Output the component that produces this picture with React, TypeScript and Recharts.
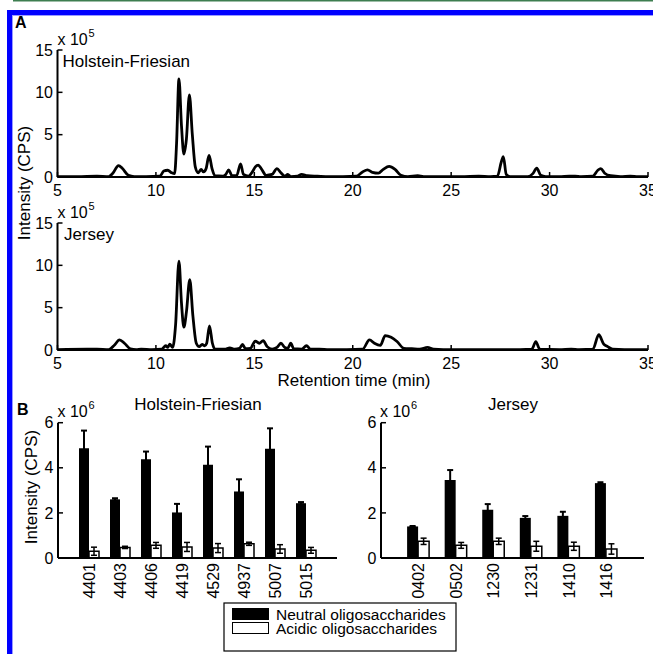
import React from 'react';
import { LineChart, Line, XAxis, YAxis, BarChart, Bar, ErrorBar } from 'recharts';

const FONT = '"Liberation Sans", Arial, Helvetica, sans-serif';

// ---------- Panel A: chromatograms (intensity x 10^5 CPS vs retention time, min) ----------
const hfTime = [5.0, 6.0, 7.0, 7.6, 7.8, 8.1, 8.3, 8.6, 8.9, 9.5, 10.2, 10.4, 10.6, 10.8, 10.95, 11.05, 11.17, 11.3, 11.42, 11.55, 11.7, 11.85, 12.0, 12.15, 12.3, 12.42, 12.55, 12.7, 12.85, 13.0, 13.4, 13.55, 13.7, 13.85, 14.1, 14.3, 14.45, 14.7, 14.9, 15.05, 15.2, 15.35, 15.6, 15.9, 16.15, 16.35, 16.55, 16.7, 16.85, 17.2, 17.4, 17.7, 18.2, 18.8, 19.5, 20.2, 20.5, 20.75, 21.0, 21.3, 21.55, 21.85, 22.15, 22.45, 22.8, 23.3, 23.6, 24.5, 25.5, 26.4, 27.0, 27.35, 27.55, 27.65, 27.8, 28.0, 28.9, 29.15, 29.35, 29.55, 29.8, 30.5, 31.0, 31.3, 31.6, 32.2, 32.45, 32.6, 32.8, 33.1, 33.6, 34.1, 34.5, 35.0];
const hfIntensity = [0.05, 0.05, 0.1, 0.05, 0.4, 1.35, 1.0, 0.2, 0.05, 0.05, 0.1, 0.7, 0.8, 0.5, 0.4, 4.0, 11.6, 6.0, 2.7, 4.5, 9.7, 5.0, 1.2, 0.5, 0.9, 0.6, 1.0, 2.55, 1.0, 0.15, 0.1, 0.3, 0.85, 0.2, 0.15, 1.55, 0.3, 0.1, 0.6, 1.2, 1.4, 1.0, 0.2, 0.3, 1.0, 0.5, 0.1, 0.3, 0.05, 0.1, 0.3, 0.15, 0.1, 0.05, 0.05, 0.1, 0.6, 0.85, 0.55, 0.45, 0.9, 1.25, 0.9, 0.2, 0.05, 0.15, 0.05, 0.05, 0.05, 0.1, 0.05, 0.1, 1.8, 2.4, 0.3, 0.05, 0.05, 0.4, 1.05, 0.2, 0.05, 0.05, 0.1, 0.1, 0.05, 0.1, 0.8, 1.0, 0.45, 0.15, 0.05, 0.1, 0.05, 0.05];

const jeTime = [5.0, 6.5, 7.0, 7.6, 7.9, 8.15, 8.4, 8.7, 9.0, 9.25, 9.8, 10.3, 10.5, 10.6, 10.7, 10.85, 11.0, 11.17, 11.3, 11.42, 11.55, 11.72, 11.88, 12.05, 12.2, 12.35, 12.48, 12.58, 12.72, 12.87, 13.0, 13.5, 13.75, 14.0, 14.25, 14.4, 14.55, 14.8, 15.05, 15.25, 15.45, 15.65, 15.9, 16.15, 16.35, 16.55, 16.7, 16.85, 17.0, 17.4, 17.65, 17.85, 18.3, 18.8, 19.7, 20.5, 20.85, 21.1, 21.4, 21.65, 21.95, 22.25, 22.6, 23.0, 23.4, 23.8, 24.1, 24.6, 26.0, 28.5, 29.1, 29.3, 29.5, 30.5, 31.1, 31.5, 32.2, 32.5, 32.75, 32.95, 33.2, 33.8, 35.0];
const jeIntensity = [0.05, 0.1, 0.1, 0.05, 0.6, 1.2, 0.8, 0.15, 0.05, 0.1, 0.05, 0.1, 0.5, 0.3, 0.7, 0.3, 3.0, 10.5, 5.5, 2.7, 4.5, 8.3, 4.0, 0.8, 0.4, 0.65, 0.5, 0.8, 2.85, 0.8, 0.1, 0.1, 0.25, 0.1, 0.2, 0.65, 0.15, 0.2, 1.05, 0.8, 1.1, 0.4, 0.1, 0.3, 0.8, 0.3, 0.2, 0.8, 0.15, 0.1, 0.5, 0.1, 0.1, 0.05, 0.05, 0.1, 1.2, 0.8, 0.55, 1.7, 1.5, 1.0, 0.2, 0.15, 0.1, 0.3, 0.1, 0.05, 0.05, 0.05, 0.1, 1.0, 0.1, 0.05, 0.1, 0.05, 0.1, 1.8, 0.7, 0.4, 0.1, 0.05, 0.05];

const timeTicks = [5, 10, 15, 20, 25, 30, 35];
const chromTicks = [0, 5, 10, 15];

// ---------- Panel B: oligosaccharide intensity (x 10^6 CPS) ----------
const hfSamples = ['4401', '4403', '4406', '4419', '4529', '4937', '5007', '5015'];
const hfNeutral = [4.87, 2.6, 4.38, 2.02, 4.13, 2.95, 4.84, 2.43];
const hfNeutralErr = [0.78, 0.05, 0.34, 0.38, 0.81, 0.54, 0.91, 0.05];
const hfAcidic = [0.3, 0.47, 0.56, 0.49, 0.44, 0.63, 0.4, 0.34];
const hfAcidicErr = [0.18, 0.05, 0.13, 0.2, 0.2, 0.07, 0.19, 0.13];

const jeSamples = ['0402', '0502', '1230', '1231', '1410', '1416'];
const jeNeutral = [1.4, 3.46, 2.14, 1.78, 1.87, 3.32];
const jeNeutralErr = [0.02, 0.44, 0.25, 0.08, 0.18, 0.04];
const jeAcidic = [0.74, 0.56, 0.74, 0.52, 0.52, 0.4];
const jeAcidicErr = [0.14, 0.13, 0.14, 0.22, 0.18, 0.23];

const barTicks = [0, 2, 4, 6];

const hfChrom = hfTime.map((t, i) => ({ t, v: hfIntensity[i] }));
const jeChrom = jeTime.map((t, i) => ({ t, v: jeIntensity[i] }));
const hfBars = hfSamples.map((name, i) => ({ name, neutral: hfNeutral[i], nErr: hfNeutralErr[i], acidic: hfAcidic[i], aErr: hfAcidicErr[i] }));
const jeBars = jeSamples.map((name, i) => ({ name, neutral: jeNeutral[i], nErr: jeNeutralErr[i], acidic: jeAcidic[i], aErr: jeAcidicErr[i] }));

const axisLine = { stroke: '#000', strokeWidth: 2 };

function YTickIn(props: any) {
  const { x, y, payload } = props;
  return (
    <g>
      <line x1={x} y1={y} x2={x + 5} y2={y} stroke="#000" strokeWidth={1.5} />
      <text x={x - 4.5} y={y} dy={5.6} textAnchor="end" fontSize={16} fontFamily={FONT} fill="#000">
        {payload.value}
      </text>
    </g>
  );
}

function XTickIn(props: any) {
  const { x, y, payload } = props;
  return (
    <g>
      <line x1={x} y1={y} x2={x} y2={y - 5} stroke="#000" strokeWidth={1.5} />
      <text x={x} y={y + 19} textAnchor="middle" fontSize={16} fontFamily={FONT} fill="#000">
        {payload.value}
      </text>
    </g>
  );
}

function XTickRot(props: any) {
  const { x, y, payload } = props;
  const yy = y + 5;
  return (
    <text x={x} y={yy} dy={5.7} transform={`rotate(-90, ${x}, ${yy})`} textAnchor="end" fontSize={16} fontFamily={FONT} fill="#000">
      {payload.value}
    </text>
  );
}

function Chromatogram({ data }: { data: { t: number; v: number }[] }) {
  return (
    <LineChart width={660} height={200} data={data} margin={{ top: 50, right: 12, bottom: 3, left: 17.5 }}>
      <XAxis
        type="number"
        dataKey="t"
        domain={[5, 35]}
        ticks={timeTicks}
        interval={0}
        height={20}
        axisLine={axisLine}
        tickLine={false}
        tickSize={0}
        tickMargin={0}
        tick={<XTickIn />}
      />
      <YAxis
        type="number"
        domain={[0, 15]}
        ticks={chromTicks}
        interval={0}
        width={40}
        axisLine={axisLine}
        tickLine={false}
        tickSize={0}
        tickMargin={0}
        tick={<YTickIn />}
      />
      <Line type="monotone" dataKey="v" stroke="#000" strokeWidth={2.8} dot={false} isAnimationActive={false} strokeLinejoin="round" />
    </LineChart>
  );
}

function Bars({ data, width, left, right, pad, gap }: any) {
  return (
    <BarChart width={width} height={230} data={data} margin={{ top: 42.7, right, bottom: 2, left }} barCategoryGap={gap} barGap={0}>
      <XAxis
        dataKey="name"
        type="category"
        interval={0}
        height={50}
        padding={{ left: pad, right: pad }}
        axisLine={axisLine}
        tickLine={false}
        tickSize={0}
        tickMargin={0}
        tick={<XTickRot />}
      />
      <YAxis
        type="number"
        domain={[0, 6]}
        ticks={barTicks}
        interval={0}
        width={40}
        axisLine={axisLine}
        tickLine={false}
        tickSize={0}
        tickMargin={0}
        tick={<YTickIn />}
      />
      <Bar dataKey="neutral" fill="#000" isAnimationActive={false}>
        <ErrorBar dataKey="nErr" width={3} stroke="#000" strokeWidth={2} direction="y" />
      </Bar>
      <Bar dataKey="acidic" fill="#fff" stroke="#000" strokeWidth={1.5} isAnimationActive={false}>
        <ErrorBar dataKey="aErr" width={3} stroke="#000" strokeWidth={1.5} direction="y" />
      </Bar>
    </BarChart>
  );
}

function XPow({ x, y, exp }: { x: number; y: number; exp: string }) {
  return (
    <g fontFamily={FONT} fill="#000">
      <text x={x} y={y} fontSize={16}>x 10</text>
      <text x={x + 31} y={y - 8} fontSize={11}>{exp}</text>
    </g>
  );
}

export default function App() {
  return (
    <div style={{ position: 'absolute', left: 0, top: 0, width: 653, height: 654, overflow: 'hidden', background: '#fff', fontFamily: FONT }}>
      <div style={{ position: 'absolute', left: 0, top: 0 }}>
        <Chromatogram data={hfChrom} />
      </div>
      <div style={{ position: 'absolute', left: 0, top: 173 }}>
        <Chromatogram data={jeChrom} />
      </div>
      <div style={{ position: 'absolute', left: 0, top: 380 }}>
        <Bars data={hfBars} width={345} left={18} right={8} pad={15.5} gap={5.5} />
      </div>
      <div style={{ position: 'absolute', left: 330, top: 380 }}>
        <Bars data={jeBars} width={320} left={11} right={6} pad={18.8} gap={7.3} />
      </div>
      <svg width={653} height={654} style={{ position: 'absolute', left: 0, top: 0, pointerEvents: 'none' }}>
        {/* page frame */}
        <rect x={13} y={0} width={640} height={1.5} fill="#3e7e50" />
        <rect x={7} y={10} width={646} height={5} fill="#0000ff" />
        <rect x={7} y={10} width={5} height={644} fill="#0000ff" />
        <rect x={12} y={15} width={641} height={1} fill="#9a9aff" />
        <rect x={12} y={15} width={1} height={639} fill="#9a9aff" />
        {/* panel letters */}
        <text x={15} y={28} fontSize={16} fontWeight="bold" fontFamily={FONT}>A</text>
        <text x={17} y={415} fontSize={16} fontWeight="bold" fontFamily={FONT}>B</text>
        {/* panel A annotations */}
        <XPow x={57.5} y={44.5} exp="5" />
        <XPow x={57.5} y={217.5} exp="5" />
        <text x={62.5} y={67} fontSize={17} fontFamily={FONT}>Holstein-Friesian</text>
        <text x={64} y={240} fontSize={17} fontFamily={FONT}>Jersey</text>
        <text x={354} y={386} fontSize={17} fontFamily={FONT} textAnchor="middle">Retention time (min)</text>
        <text x={30} y={183} fontSize={17} fontFamily={FONT} textAnchor="middle" transform="rotate(-90, 30, 183)">Intensity (CPS)</text>
        {/* panel B annotations */}
        <XPow x={57.5} y={417} exp="6" />
        <XPow x={380} y={417} exp="6" />
        <text x={198} y={410} fontSize={17} fontFamily={FONT} textAnchor="middle">Holstein-Friesian</text>
        <text x={513} y={410} fontSize={17} fontFamily={FONT} textAnchor="middle">Jersey</text>
        <text x={37} y={487} fontSize={17} fontFamily={FONT} textAnchor="middle" transform="rotate(-90, 37, 487)">Intensity (CPS)</text>
        {/* legend */}
        <rect x={224} y={603} width={232} height={48} fill="#fff" stroke="#000" strokeWidth={1.2} />
        <rect x={232} y={608} width={37} height={12} fill="#000" />
        <text x={276} y={619.5} fontSize={15.5} fontFamily={FONT}>Neutral oligosaccharides</text>
        <rect x={232.5} y={622.5} width={36} height={11} fill="#fff" stroke="#000" strokeWidth={1} />
        <text x={276} y={634} fontSize={15.5} fontFamily={FONT}>Acidic oligosaccharides</text>
      </svg>
    </div>
  );
}
